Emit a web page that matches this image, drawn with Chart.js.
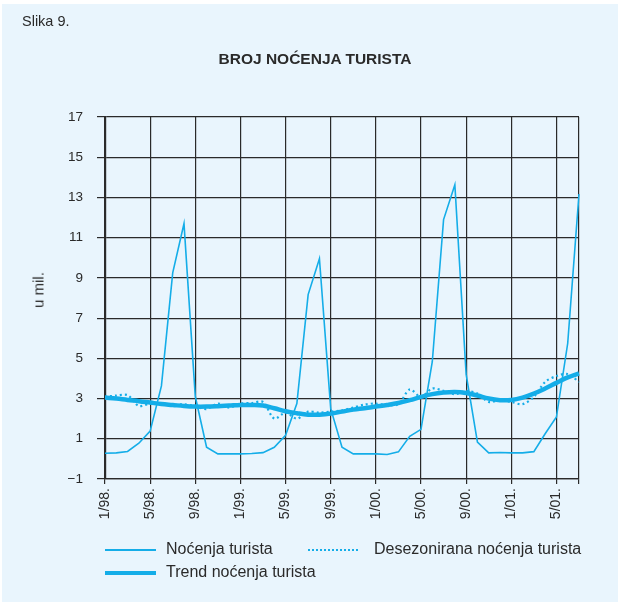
<!DOCTYPE html>
<html>
<head>
<meta charset="utf-8">
<script src="https://cdn.jsdelivr.net/npm/chart.js@4"></script>
<style>
  html, body { margin: 0; padding: 0; background: #ffffff; }
  #wrap { position: relative; width: 618px; height: 602px; overflow: hidden; font-family: "Liberation Sans", Arial, sans-serif; color: #2a2a2a; }
  #panel { position: absolute; left: 2px; top: 4px; width: 616px; height: 598px; background: #e9f5fd; }
  #c { position: absolute; left: 0; top: 0; }
  .txt { position: absolute; white-space: nowrap; }
  #slika { left: 22px; top: 13px; font-size: 14.5px; }
  #title { left: 0; width: 630px; text-align: center; top: 50px; font-size: 15.5px; font-weight: bold; }
  #ytitle { left: 38px; top: 290px; font-size: 15px; transform: translate(-50%, -50%) rotate(-90deg); }
  .sw { position: absolute; }
  .lg { font-size: 16px; }
</style>
</head>
<body>
<div id="wrap">
  <div id="panel"></div>
  <canvas id="c" width="618" height="602"></canvas>
  <div class="txt" id="slika">Slika 9.</div>
  <div class="txt" id="title">BROJ NOĆENJA TURISTA</div>
  <div class="txt" id="ytitle">u mil.</div>
  <div class="sw" style="left:105px; top:549px; width:51px; height:2px; background:#14ade8;"></div>
  <div class="txt lg" style="left:166px; top:540px;">Noćenja turista</div>
  <div class="sw" style="left:308px; top:549px; width:52px; height:2px; background:repeating-linear-gradient(to right, #14ade8 0 2px, transparent 2px 4px);"></div>
  <div class="txt lg" style="left:374px; top:540px;">Desezonirana noćenja turista</div>
  <div class="sw" style="left:105px; top:571px; width:51px; height:4px; background:#14ade8;"></div>
  <div class="txt lg" style="left:166px; top:563px;">Trend noćenja turista</div>
</div>
<script>
// Months 1/98 .. 7/01
const months = [];
(function(){
  const yrs = ['98','99','00','01'];
  for (let y = 0; y < 4; y++) {
    for (let m = 1; m <= 12; m++) {
      if (y === 3 && m > 7) break;
      months.push(m + '/' + yrs[y] + '.');
    }
  }
})();

const nocenja = [
  0.28, 0.30, 0.37, 0.78, 1.38, 3.63, 9.25, 11.7, 3.1, 0.58, 0.25, 0.25,
  0.25, 0.27, 0.31, 0.58, 1.17, 2.75, 8.17, 9.95, 2.5, 0.58, 0.25, 0.25,
  0.25, 0.22, 0.35, 1.12, 1.47, 4.83, 11.9, 13.63, 4.2, 0.83, 0.30, 0.32,
  0.30, 0.30, 0.36, 1.25, 2.08, 5.75, 13.17
];

const desezonirana = [
  3.08, 3.15, 3.17, 2.63, 2.75, 2.72, 2.67, 2.72, 2.62, 2.48, 2.75, 2.55,
  2.75, 2.78, 2.83, 2.0, 2.3, 2.0, 2.35, 2.3, 2.35, 2.42, 2.55, 2.7,
  2.75, 2.67, 2.72, 3.45, 3.08, 3.5, 3.38, 3.22, 3.38, 3.25, 2.83, 2.92,
  2.83, 2.72, 3.08, 3.83, 4.12, 4.22, 3.83
];

const trend = [
  3.05, 3.0, 2.93, 2.87, 2.8, 2.73, 2.68, 2.63, 2.6, 2.6, 2.62, 2.65,
  2.68, 2.68, 2.65, 2.52, 2.37, 2.27, 2.2, 2.2, 2.25, 2.35, 2.45, 2.52,
  2.6, 2.68, 2.78, 2.92, 3.08, 3.22, 3.3, 3.33, 3.28, 3.15, 3.0, 2.92,
  2.93, 3.05, 3.25, 3.5, 3.78, 4.05, 4.25
];

const yTicks = [-1, 1, 3, 5, 7, 9, 11, 13, 15, 17];

const lineColor = '#14ade8';
const gridColor = '#2a2a2a';

new Chart(document.getElementById('c'), {
  type: 'line',
  data: {
    labels: months,
    datasets: [
      { label: 'Noćenja turista', data: nocenja, borderColor: lineColor, borderWidth: 1.6, pointRadius: 0, tension: 0, fill: false },
      { label: 'Desezonirana noćenja turista', data: desezonirana, borderColor: lineColor, borderWidth: 2.2, borderDash: [2, 3], pointRadius: 0, tension: 0.3, fill: false },
      { label: 'Trend noćenja turista', data: trend, borderColor: lineColor, borderWidth: 4.5, pointRadius: 0, tension: 0.4, fill: false }
    ]
  },
  options: {
    responsive: false,
    animation: false,
    devicePixelRatio: 1,
    layout: { padding: { left: 0, top: 117, right: 39, bottom: 83 } },
    plugins: { legend: { display: false }, title: { display: false }, tooltip: { enabled: false } },
    scales: {
      x: {
        type: 'category',
        offset: false,
        afterFit: (s) => { s.height = 40; },
        grid: {
          color: (ctx) => (ctx.index % 4 === 0 || ctx.index === months.length - 1) ? gridColor : 'rgba(0,0,0,0)',
          lineWidth: 1.2,
          tickLength: 5,
          drawTicks: true
        },
        border: { display: true, color: gridColor, width: 1.2 },
        ticks: {
          autoSkip: false,
          maxRotation: 90,
          minRotation: 90,
          padding: 4,
          color: '#2a2a2a',
          font: { family: '"Liberation Sans", Arial, sans-serif', size: 14 },
          callback: function(v, i) { return i % 4 === 0 ? months[i] : ''; }
        }
      },
      y: {
        type: 'linear',
        min: -1,
        max: 17,
        afterFit: (s) => { s.width = 105; },
        afterBuildTicks: (s) => { s.ticks = yTicks.map(v => ({ value: v })); },
        grid: { color: gridColor, lineWidth: 1.2, tickLength: 8 },
        border: { display: true, color: gridColor, width: 2.2 },
        ticks: {
          padding: 14,
          color: '#2a2a2a',
          font: { family: '"Liberation Sans", Arial, sans-serif', size: 13.5 },
          callback: (v) => (v < 0 ? '\u2212' + Math.abs(v) : String(v))
        }
      }
    }
  }
});
</script>
</body>
</html>
